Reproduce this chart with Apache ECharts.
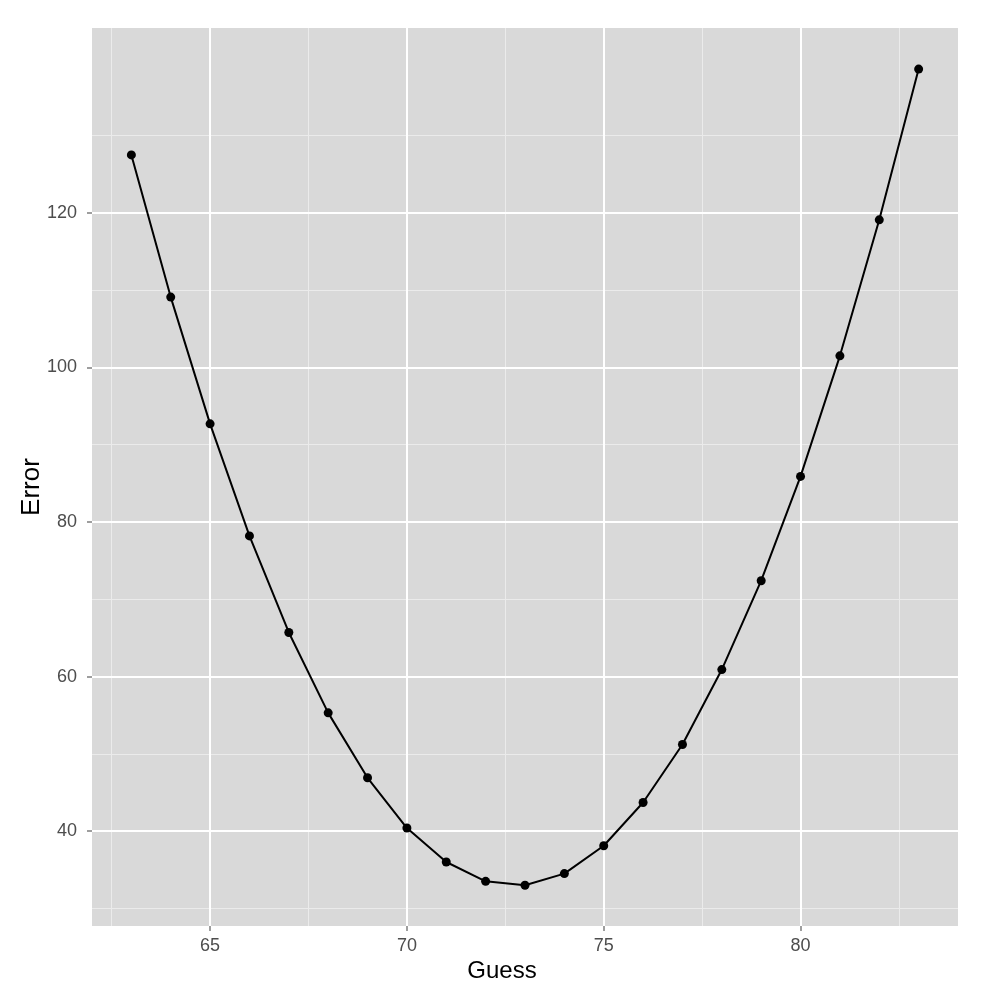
<!DOCTYPE html>
<html><head><meta charset="utf-8">
<script src="https://cdn.jsdelivr.net/npm/echarts@6/dist/echarts.min.js"></script>
<style>html,body{margin:0;padding:0;background:#fff}#c{width:1000px;height:1000px}</style>
</head><body><div id="c"></div>
<script>
const guesses = [63,64,65,66,67,68,69,70,71,72,73,74,75,76,77,78,79,80,81,82,83];
const errors = [127.5,109.1,92.7,78.2,65.7,55.3,46.9,40.4,36.0,33.5,33.0,34.5,38.1,43.7,51.2,60.9,72.4,85.9,101.5,119.1,138.6];
const xMajor = [65,70,75,80];
const xMinor = [62.5,67.5,72.5,77.5,82.5];
const yMajor = [40,60,80,100,120];
const yMinor = [30,50,70,90,110,130];
const xMin = 62, xMax = 84, yMin = 27.72, yMax = 143.92;

const chart = echarts.init(document.getElementById('c'));
const ff = 'Liberation Sans, Arial, sans-serif';
const baseAxis = (min, max) => ({type:'value', min, max, axisLine:{show:false}});
chart.setOption({
  animation:false,
  backgroundColor:'#fff',
  grid:{left:92,right:42,top:28,bottom:74,show:true,backgroundColor:'#d9d9d9',borderWidth:0},
  xAxis:[
    Object.assign(baseAxis(xMin,xMax),{
      name:'Guess', nameLocation:'middle', nameGap:33, nameMoveOverlap:false,
      nameTextStyle:{fontFamily:ff,fontSize:24,color:'#000',padding:[0,46,0,0]},
      axisTick:{show:true,length:5,lineStyle:{color:'#7f7f7f',width:1.5},customValues:xMajor},
      axisLabel:{customValues:xMajor,fontFamily:ff,fontSize:18,color:'#4d4d4d',margin:11},
      splitLine:{show:true,lineStyle:{color:'#fff',width:2}}, z:2
    }),
    Object.assign(baseAxis(xMin,xMax),{
      axisTick:{show:false,customValues:xMinor},
      axisLabel:{show:false,customValues:xMinor},
      splitLine:{show:true,lineStyle:{color:'#ebebeb',width:1}}, z:1
    })
  ],
  yAxis:[
    Object.assign(baseAxis(yMin,yMax),{
      name:'Error', nameLocation:'middle', nameGap:47, nameRotate:90, nameMoveOverlap:false,
      nameTextStyle:{fontFamily:ff,fontSize:26,color:'#000',padding:[0,20,0,0]},
      axisTick:{show:true,length:5,lineStyle:{color:'#7f7f7f',width:1.5},customValues:yMajor},
      axisLabel:{customValues:yMajor,fontFamily:ff,fontSize:18,color:'#4d4d4d',margin:15},
      splitLine:{show:true,lineStyle:{color:'#fff',width:2}}, z:2
    }),
    Object.assign(baseAxis(yMin,yMax),{
      position:'left',
      axisTick:{show:false,customValues:yMinor},
      axisLabel:{show:false,customValues:yMinor},
      splitLine:{show:true,lineStyle:{color:'#ebebeb',width:1}}, z:1
    })
  ],
  series:[{
    type:'line',
    xAxisIndex:0, yAxisIndex:0,
    data: guesses.map((g,i)=>[g,errors[i]]),
    symbol:'circle', symbolSize:9,
    itemStyle:{color:'#000'},
    lineStyle:{color:'#000',width:2},
    z:5
  }]
});
</script></body></html>
